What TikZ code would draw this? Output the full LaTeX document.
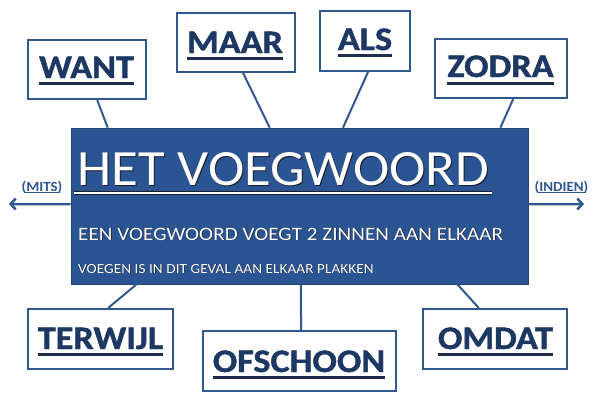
\documentclass[tikz,border=0pt]{standalone}
\usepackage{fontspec}
\setmainfont{Carlito}
\newfontfamily\labelfont[FakeStretch=1.1, BoldFeatures={FakeBold=1.3}]{Carlito}
\newfontfamily\titlefont[FakeStretch=1.08]{Carlito}
\newfontfamily\subfont[FakeStretch=1.12]{Carlito}
\newfontfamily\smallfont[FakeStretch=1.1]{Carlito}
\newfontfamily\sidefont[FakeStretch=1.07]{Carlito}
\usetikzlibrary{arrows.meta,calc}
\definecolor{mainblue}{RGB}{43,84,146}
\definecolor{lineblue}{RGB}{47,88,142}
\definecolor{wordblue}{RGB}{30,56,100}
\definecolor{ulblue}{RGB}{30,45,75}
\definecolor{shade}{RGB}{25,30,45}
\tikzset{
  wordbox/.style={draw=lineblue, line width=2bp, fill=white, inner sep=0pt},
  wordtext/.style={font=\labelfont\fontsize{33}{33}\selectfont\bfseries, text=wordblue, inner sep=0pt, anchor=base},
  ulline/.style={draw=ulblue, line width=3bp},
  link/.style={draw=lineblue, line width=2bp},
  sidearrow/.style={draw=lineblue, line width=2.5bp, -{Straight Barb[length=5bp,width=11bp,line width=2.5bp]}},
  sidetext/.style={font=\sidefont\fontsize{14}{14}\selectfont\bfseries, text=lineblue, inner sep=0pt, anchor=base},
  sideul/.style={draw=lineblue, line width=1bp},
  mainbox/.style={fill=mainblue, draw=mainblue!80!black, line width=0.6bp, inner sep=0pt},
  titletext/.style={font=\titlefont\fontsize{51}{51}\selectfont, text=white, inner sep=0pt, anchor=base},
  subtext/.style={font=\subfont\fontsize{19}{19}\selectfont, text=white, inner sep=0pt, anchor=base west},
  smalltext/.style={font=\smallfont\fontsize{14}{14}\selectfont, text=white, inner sep=0pt, anchor=base west},
  shadowtext/.style={text=shade}
}
\begin{document}
\begin{tikzpicture}[x=1bp,y=-1bp]
\useasboundingbox (0,0) rectangle (600,401);

% main box
\node[mainbox, minimum width=457bp, minimum height=156bp] (main) at (299.5,206) {};

% title with shadow
\node[titletext, shadowtext] (titleS) at (284.5,186) {HET VOEGWOORD};
\node[titletext] (title) at (283.5,185) {HET VOEGWOORD};
\draw[draw=shade, line width=3.2bp] ([xshift=-3bp,yshift=-8bp]title.base west) -- ([xshift=2bp,yshift=-8bp]title.base east);
\draw[draw=white, line width=2bp] ([xshift=-3bp,yshift=-8bp]title.base west) -- ([xshift=2bp,yshift=-8bp]title.base east);

\node[subtext, shadowtext] (line2S) at (78.7,240.7) {EEN VOEGWOORD VOEGT 2 ZINNEN AAN ELKAAR};
\node[subtext] (line2) at (78,240) {EEN VOEGWOORD VOEGT 2 ZINNEN AAN ELKAAR};
\node[smalltext, shadowtext] (line3S) at (78.6,273.6) {VOEGEN IS IN DIT GEVAL AAN ELKAAR PLAKKEN};
\node[smalltext] (line3) at (78,273) {VOEGEN IS IN DIT GEVAL AAN ELKAAR PLAKKEN};

% word boxes
\node[wordbox, minimum width=118bp, minimum height=59bp] (want) at (87,69.5) {};
\node[wordtext] (wantT) at (86.5,78) {WANT};
\draw[ulline] ([yshift=-5bp]wantT.base west) -- ([yshift=-5bp]wantT.base east);

\node[wordbox, minimum width=118bp, minimum height=59bp] (maar) at (236,42.5) {};
\node[wordtext] (maarT) at (235,53) {MAAR};
\draw[ulline] ([yshift=-5bp]maarT.base west) -- ([yshift=-5bp]maarT.base east);

\node[wordbox, minimum width=90bp, minimum height=60bp] (als) at (365,41) {};
\node[wordtext] (alsT) at (365,50) {ALS};
\draw[ulline] ([yshift=-5.5bp]alsT.base west) -- ([yshift=-5.5bp]alsT.base east);

\node[wordbox, minimum width=132bp, minimum height=59bp] (zodra) at (501,68.5) {};
\node[wordtext] (zodraT) at (500.5,77) {ZODRA};
\draw[ulline] ([yshift=-6bp]zodraT.base west) -- ([yshift=-6bp]zodraT.base east);

\node[wordbox, minimum width=145bp, minimum height=60bp] (terwijl) at (100.5,339) {};
\node[wordtext] (terwijlT) at (100.5,349) {TERWIJL};
\draw[ulline] ([yshift=-5bp]terwijlT.base west) -- ([yshift=-5bp]terwijlT.base east);

\node[wordbox, minimum width=193bp, minimum height=60bp] (ofschoon) at (299.5,361) {};
\node[wordtext] (ofschoonT) at (299,372) {OFSCHOON};
\draw[ulline] ([yshift=-5bp]ofschoonT.base west) -- ([yshift=-5bp]ofschoonT.base east);

\node[wordbox, minimum width=144bp, minimum height=60bp] (omdat) at (495,339) {};
\node[wordtext] (omdatT) at (495.5,349) {OMDAT};
\draw[ulline] ([yshift=-5bp]omdatT.base west) -- ([yshift=-5bp]omdatT.base east);

% connectors
\draw[link] ($(want.south west)!.585!(want.south east)$) -- ($(main.north west)!.081!(main.north east)$);
\draw[link] ($(maar.south west)!.559!(maar.south east)$) -- ($(main.north west)!.435!(main.north east)$);
\draw[link] ($(als.south west)!.533!(als.south east)$) -- ($(main.north west)!.595!(main.north east)$);
\draw[link] ($(zodra.south west)!.591!(zodra.south east)$) -- ($(main.north west)!.939!(main.north east)$);
\draw[link] ($(terwijl.north west)!.552!(terwijl.north east)$) -- ($(main.south west)!.144!(main.south east)$);
\draw[link] ($(ofschoon.north west)!.508!(ofschoon.north east)$) -- ($(main.south west)!.503!(main.south east)$);
\draw[link] ($(omdat.north west)!.389!(omdat.north east)$) -- ($(main.south west)!.845!(main.south east)$);

% side arrows
\coordinate (mitsend) at (9,204);
\coordinate (indienend) at (584,204);
\draw[sidearrow] ([yshift=2bp]main.west) -- (mitsend);
\draw[sidearrow] ([yshift=2bp]main.east) -- (indienend);
\node[sidetext] (mits) at (42,191) {(MITS)};
\draw[sideul] ([xshift=3bp,yshift=-1.8bp]mits.base west) -- ([xshift=-3bp,yshift=-1.8bp]mits.base east);
\node[sidetext] (indien) at (561.5,191) {(INDIEN)};
\draw[sideul] ([xshift=3bp,yshift=-1.8bp]indien.base west) -- ([xshift=-3bp,yshift=-1.8bp]indien.base east);
\end{tikzpicture}
\end{document}
